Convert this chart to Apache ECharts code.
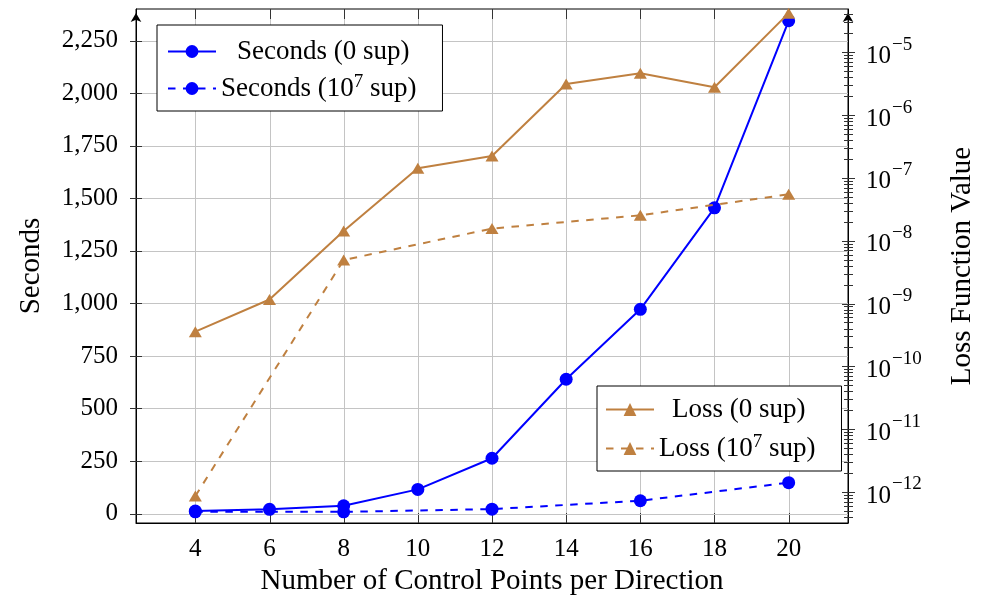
<!DOCTYPE html>
<html><head><meta charset="utf-8">
<script src="https://cdn.jsdelivr.net/npm/echarts@6/dist/echarts.min.js"></script>
<style>html,body{margin:0;padding:0;background:#fff}#c{width:989px;height:598px}</style>
</head><body><div id="c"></div>
<script>
// ---- data ----
const xFull = [4, 6, 8, 10, 12, 14, 16, 18, 20];
const xSparse = [4, 8, 12, 16, 20];
const secondsNoSup = [12, 20, 37, 115, 263, 639, 972, 1455, 2345];
const secondsSup = [8, 8, 21, 61, 147];
const lossNoSup = [3.56e-10, 1.16e-9, 1.43e-8, 1.42e-7, 2.23e-7, 3.13e-6, 4.63e-6, 2.77e-6, 4.2e-5];
const lossSup = [8.6e-13, 4.93e-9, 1.56e-8, 2.54e-8, 5.48e-8];
const xTicks = [4, 6, 8, 10, 12, 14, 16, 18, 20];
const leftTicks = [0, 250, 500, 750, 1000, 1250, 1500, 1750, 2000, 2250];
const rightTicks = [1e-12, 1e-11, 1e-10, 1e-9, 1e-8, 1e-7, 1e-6, 1e-5];
const minorMultipliers = [2, 3, 4, 5, 6, 7, 8, 9];
const minorDecades = [1e-13, 1e-12, 1e-11, 1e-10, 1e-9, 1e-8, 1e-7, 1e-6, 1e-5];

const X_MIN = 2.4, X_MAX = 21.6;
const Y_MIN = -45, Y_MAX = 2401;
const LOG_MIN = 3.206e-13, LOG_MAX = 4.887e-5;

const FONT = 'Liberation Serif';
const BLUE = '#0000ff', BROWN = '#bf8040', GRID = '#c4c4c4', TICK = '#333';

const rightMinor = [];
minorDecades.forEach(d => minorMultipliers.forEach(m => {
  const v = m * d;
  if (v > LOG_MIN && v < LOG_MAX) rightMinor.push(v);
}));

function fmtThousands(v) {
  return String(v).replace(/\B(?=(\d{3})+(?!\d))/g, ',');
}

const chart = echarts.init(document.getElementById('c'), null, {renderer: 'canvas'});

function seg(x1, y1, x2, y2, color) {
  return {type: 'line', shape: {x1, y1, x2, y2}, style: {stroke: color, lineWidth: 1}};
}

const richLegend = {
  b: {fontFamily: FONT, fontSize: 27, lineHeight: 30, color: '#000'},
  b1: {fontFamily: FONT, fontSize: 27, lineHeight: 30, color: '#000', padding: [0, 0, 0, 16]},
  b2: {fontFamily: FONT, fontSize: 27, lineHeight: 30, color: '#000', padding: [0, 0, 0, 13]},
  s: {fontFamily: FONT, fontSize: 19, lineHeight: 19, color: '#000', padding: [0, 0, 12, 0]}
};

const option = {
  animation: false,
  backgroundColor: '#fff',
  grid: {left: 136, right: 141, top: 9, bottom: 75, show: true, borderColor: '#000', borderWidth: 1, backgroundColor: 'transparent', containLabel: false, outerBoundsMode: 'none'},
  legend: [
    {
      data: ['Seconds (0 sup)', 'Seconds (10^7 sup)'],
      orient: 'vertical', left: 157, top: 25,
      padding: [13, 26, 7, 10], itemGap: 8,
      itemWidth: 48, itemHeight: 16,
      backgroundColor: '#fff', borderColor: '#000', borderWidth: 1,
      selectedMode: false,
      formatter: function (name) {
        if (name === 'Seconds (0 sup)') return '{b1|Seconds (0 sup)}';
        return '{b|Seconds (10}{s|7}{b| sup)}';
      },
      textStyle: {rich: richLegend}
    },
    {
      data: ['Loss (0 sup)', 'Loss (10^7 sup)'],
      orient: 'vertical', left: 597, top: 386,
      padding: [10, 26, 7, 8], itemGap: 10,
      itemWidth: 48, itemHeight: 16,
      backgroundColor: '#fff', borderColor: '#000', borderWidth: 1,
      selectedMode: false,
      formatter: function (name) {
        if (name === 'Loss (0 sup)') return '{b2|Loss (0 sup)}';
        return '{b|Loss (10}{s|7}{b| sup)}';
      },
      textStyle: {rich: richLegend}
    }
  ],
  xAxis: {
    type: 'value', min: X_MIN, max: X_MAX,
    axisLine: {show: true, onZero: false, lineStyle: {color: '#000', width: 1}},
    axisTick: {show: false}, splitLine: {show: false},
    axisLabel: {customValues: xTicks, margin: 14, fontSize: 25, fontFamily: FONT, color: '#000'},
    name: 'Number of Control Points per Direction', nameLocation: 'middle', nameGap: 43,
    nameTextStyle: {fontSize: 29, fontFamily: FONT, color: '#000'}
  },
  yAxis: [
    {
      type: 'value', min: Y_MIN, max: Y_MAX, position: 'left',
      axisLine: {show: true, onZero: false, lineStyle: {color: '#000', width: 1}, symbol: ['none', 'arrow'], symbolSize: [8, 9], symbolOffset: [0, -4]},
      axisTick: {show: false}, splitLine: {show: false},
      axisLabel: {customValues: leftTicks, margin: 18, fontSize: 25, fontFamily: FONT, color: '#000', formatter: v => fmtThousands(v)},
      name: 'Seconds', nameLocation: 'middle', nameGap: 90, nameRotate: 90,
      nameTextStyle: {fontSize: 29, fontFamily: FONT, color: '#000'}
    },
    {
      type: 'log', logBase: 10, min: LOG_MIN, max: LOG_MAX, position: 'right',
      axisLine: {show: true, onZero: false, lineStyle: {color: '#000', width: 1}, symbol: ['none', 'arrow'], symbolSize: [8, 9], symbolOffset: [0, -4]},
      axisTick: {show: false}, splitLine: {show: false}, minorTick: {show: false},
      axisLabel: {
        customValues: rightTicks, margin: 18, color: '#000',
        formatter: v => '{b|10}{s|\u2212' + Math.round(-Math.log10(v)) + '}',
        rich: {
          b: {fontFamily: FONT, fontSize: 25, lineHeight: 26, color: '#000', padding: [8, 0, 0, 0]},
          s: {fontFamily: FONT, fontSize: 19, lineHeight: 19, color: '#000', padding: [0, 0, 15, 1]}
        }
      },
      name: 'Loss Function Value', nameLocation: 'middle', nameGap: 100, nameRotate: 90,
      nameTextStyle: {fontSize: 29, fontFamily: FONT, color: '#000'}
    }
  ],
  series: [
    {
      type: 'custom', name: 'xgrid', z: 1, silent: true, clip: false,
      data: xTicks.map(v => [v, 0]),
      renderItem: function (params, api) {
        const cs = params.coordSys;
        const x = Math.round(api.coord([api.value(0), 0])[0]) + 0.5;
        const top = cs.y, bot = cs.y + cs.height;
        return {type: 'group', children: [
          seg(x, top, x, bot, GRID),
          seg(x, bot - 10, x, bot, TICK),
          seg(x, top, x, top + 10, TICK)
        ]};
      }
    },
    {
      type: 'custom', name: 'ygrid', z: 1, silent: true, clip: false,
      data: leftTicks.map(v => [xTicks[0], v]),
      renderItem: function (params, api) {
        const cs = params.coordSys;
        const y = Math.round(api.coord([api.value(0), api.value(1)])[1]) + 0.5;
        const l = cs.x, r = cs.x + cs.width;
        return {type: 'group', children: [
          seg(l, y, r, y, GRID),
          seg(l - 6, y, l + 6, y, TICK)
        ]};
      }
    },
    {
      type: 'custom', name: 'rmajor', z: 1, silent: true, clip: false, yAxisIndex: 1,
      data: rightTicks.map(v => [xTicks[0], v]),
      renderItem: function (params, api) {
        const cs = params.coordSys;
        const y = Math.round(api.coord([api.value(0), api.value(1)])[1]) + 0.5;
        const r = cs.x + cs.width;
        return seg(r - 6, y, r + 7, y, TICK);
      }
    },
    {
      type: 'custom', name: 'rminor', z: 1, silent: true, clip: false, yAxisIndex: 1,
      data: rightMinor.map(v => [xTicks[0], v]),
      renderItem: function (params, api) {
        const cs = params.coordSys;
        const y = Math.round(api.coord([api.value(0), api.value(1)])[1]) + 0.5;
        const r = cs.x + cs.width;
        return seg(r - 4, y, r + 5, y, TICK);
      }
    },
    {
      name: 'Seconds (0 sup)', type: 'line', yAxisIndex: 0, z: 3,
      data: xFull.map((x, i) => [x, secondsNoSup[i]]),
      symbol: 'circle', symbolSize: 13, color: BLUE,
      itemStyle: {color: BLUE}, lineStyle: {color: BLUE, width: 2}
    },
    {
      name: 'Seconds (10^7 sup)', type: 'line', yAxisIndex: 0, z: 3,
      data: xSparse.map((x, i) => [x, secondsSup[i]]),
      symbol: 'circle', symbolSize: 13, color: BLUE,
      itemStyle: {color: BLUE}, lineStyle: {color: BLUE, width: 2, type: [7.5, 7.5]}
    },
    {
      name: 'Loss (0 sup)', type: 'line', yAxisIndex: 1, z: 4,
      data: xFull.map((x, i) => [x, lossNoSup[i]]),
      symbol: 'triangle', symbolSize: [13, 11], color: BROWN,
      itemStyle: {color: BROWN}, lineStyle: {color: BROWN, width: 2}
    },
    {
      name: 'Loss (10^7 sup)', type: 'line', yAxisIndex: 1, z: 4,
      data: xSparse.map((x, i) => [x, lossSup[i]]),
      symbol: 'triangle', symbolSize: [13, 11], color: BROWN,
      itemStyle: {color: BROWN}, lineStyle: {color: BROWN, width: 2, type: [7.5, 7.5]}
    }
  ]
};
chart.setOption(option);
</script></body></html>
